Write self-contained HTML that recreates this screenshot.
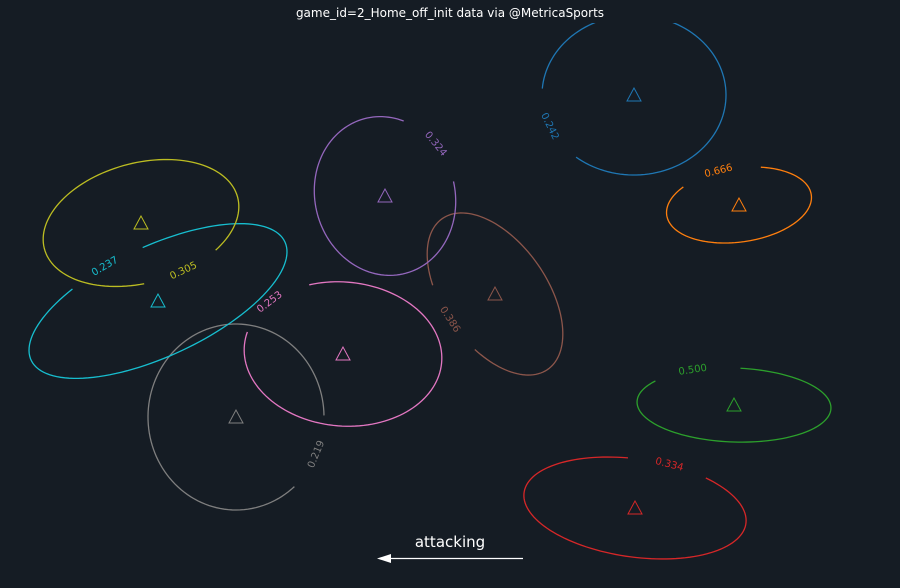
<!DOCTYPE html>
<html><head><meta charset="utf-8">
<style>
html,body{margin:0;padding:0;background:#151c24;}
svg{display:block;font-family:"DejaVu Sans","Liberation Sans",sans-serif;}
</style></head>
<body>
<svg id="chart" width="900" height="588" viewBox="0 0 900 588">
<defs><clipPath id="plotclip"><rect x="0" y="23" width="900" height="565"/></clipPath></defs>
<rect x="0" y="0" width="900" height="588" fill="#151c24"/>
<text x="450" y="17" fill="#ffffff" font-size="12" text-anchor="middle">game_id=2_Home_off_init data via @MetricaSports</text>
<g id="players" clip-path="url(#plotclip)"></g>
<g>
<text x="450" y="547" fill="#ffffff" font-size="15" text-anchor="middle">attacking</text>
<line x1="390" y1="558.5" x2="523" y2="558.5" stroke="#ffffff" stroke-width="1.2"/>
<polygon points="377,558.5 391,554 391,563" fill="#ffffff"/>
</g>
</svg>
<script>
// Player positions (pixel-space pitch coordinates)
const playerX = [634, 739, 734, 635, 495, 385, 343, 236, 158, 141];
const playerY = [95, 205, 405, 508, 294, 196, 354, 417, 301, 223];
// Ellipse radii and rotation
const radiusX = [92, 73, 97, 112, 92, 70, 99, 88, 140, 100];
const radiusY = [80, 37, 37, 49, 52, 80, 72, 93, 55, 60];
const rotation = [0, -8, 2, 8, 55, -15, 5, 0, -25, -15];
// Printed values
const values = ["0.242", "0.666", "0.500", "0.334", "0.386", "0.324", "0.253", "0.219", "0.237", "0.305"];
// Label gap (screen angle, degrees)
const gapStart = [133, 198, 197, 262, 110, 284, 193, -1, 188, 20];
const gapEnd = [184, 300, 280, 337, 188, 348, 244, 50, 254, 87];
const colors = ["#1f77b4","#ff7f0e","#2ca02c","#d62728","#8c564b","#9467bd","#e377c2","#7f7f7f","#17becf","#bcbd22"];

const NS = "http://www.w3.org/2000/svg";
const g = document.getElementById("players");
function toParam(angDeg, rx, ry, rotDeg){
  const a = angDeg*Math.PI/180, r = -rotDeg*Math.PI/180;
  const dx = Math.cos(a), dy = Math.sin(a);
  const lx = dx*Math.cos(r) - dy*Math.sin(r);
  const ly = dx*Math.sin(r) + dy*Math.cos(r);
  return Math.atan2(ly/ry, lx/rx);
}
function pt(cx, cy, rx, ry, rotDeg, t){
  const r = rotDeg*Math.PI/180;
  const lx = rx*Math.cos(t), ly = ry*Math.sin(t);
  return [cx + lx*Math.cos(r) - ly*Math.sin(r), cy + lx*Math.sin(r) + ly*Math.cos(r)];
}
for (let i = 0; i < playerX.length; i++){
  const cx = playerX[i], cy = playerY[i], rx = radiusX[i], ry = radiusY[i], rot = rotation[i], c = colors[i];
  let t1 = toParam(gapStart[i], rx, ry, rot);
  let t2 = toParam(gapEnd[i], rx, ry, rot);
  while (t2 <= t1) t2 += 2*Math.PI;
  const end = t1 + 2*Math.PI;
  let d = "";
  const N = 120;
  for (let k = 0; k <= N; k++){
    const t = t2 + (end - t2)*k/N;
    const p = pt(cx, cy, rx, ry, rot, t);
    d += (k ? "L" : "M") + p[0].toFixed(2) + "," + p[1].toFixed(2);
  }
  const path = document.createElementNS(NS, "path");
  
  
  path.setAttribute("d", d);
  path.setAttribute("fill", "none");
  path.setAttribute("stroke", c);
  path.setAttribute("stroke-width", "1.3");
  g.appendChild(path);

  const tri = document.createElementNS(NS, "polygon");
  
  
  tri.setAttribute("points", `${cx},${cy-7} ${cx-7},${cy+6} ${cx+7},${cy+6}`);
  tri.setAttribute("fill", "none");
  tri.setAttribute("stroke", c);
  tri.setAttribute("stroke-width", "1");
  g.appendChild(tri);

  const tm = (t1 + t2)/2;
  const p = pt(cx, cy, rx, ry, rot, tm);
  const pa = pt(cx, cy, rx, ry, rot, tm - 0.01), pb = pt(cx, cy, rx, ry, rot, tm + 0.01);
  let ang = Math.atan2(pb[1]-pa[1], pb[0]-pa[0])*180/Math.PI;
  if (ang > 90) ang -= 180;
  if (ang < -90) ang += 180;
  const txt = document.createElementNS(NS, "text");
  
  
  txt.setAttribute("x", p[0].toFixed(1));
  txt.setAttribute("y", p[1].toFixed(1));
  txt.setAttribute("fill", c);
  txt.setAttribute("font-size", "10");
  txt.setAttribute("text-anchor", "middle");
  txt.setAttribute("dominant-baseline", "central");
  txt.setAttribute("transform", `rotate(${ang.toFixed(1)} ${p[0].toFixed(1)} ${p[1].toFixed(1)})`);
  txt.textContent = values[i];
  g.appendChild(txt);
}
</script>
</body></html>
